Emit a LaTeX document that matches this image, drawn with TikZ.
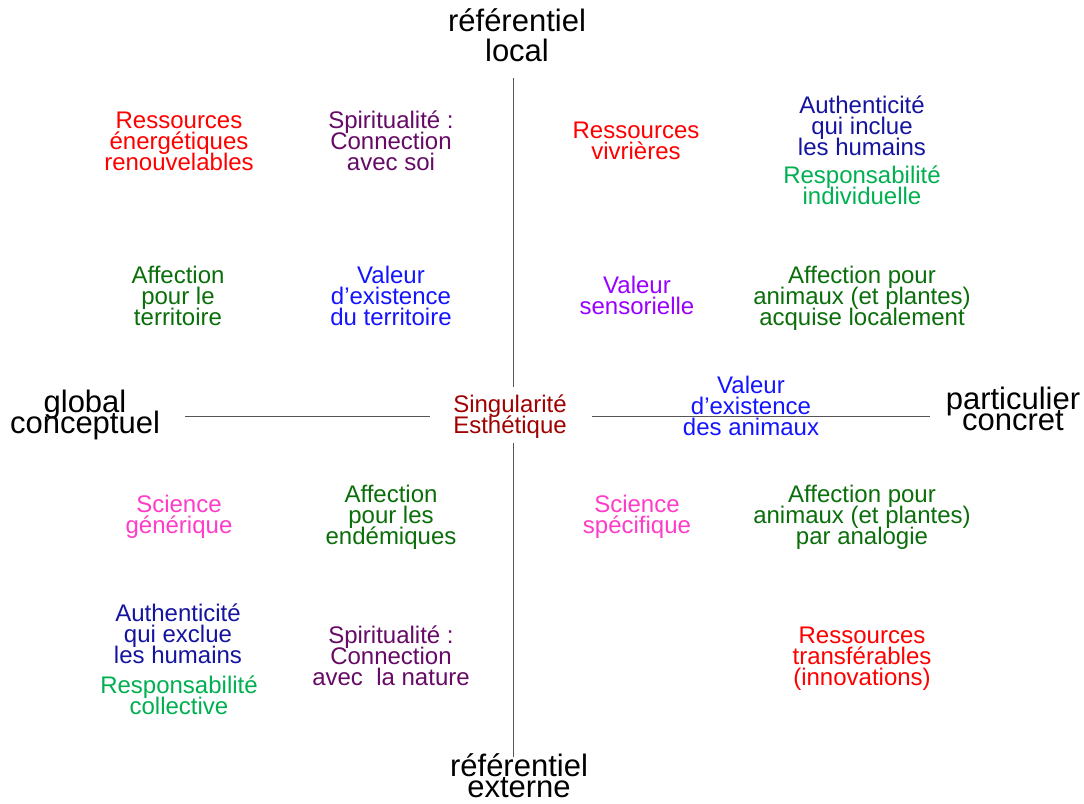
\documentclass[tikz,border=0pt]{standalone}
\usepackage{fontspec}
\setmainfont{Liberation Sans}
\definecolor{cRed}{RGB}{255,0,0}
\definecolor{cPurple}{RGB}{102,10,102}
\definecolor{cNavy}{RGB}{20,20,160}
\definecolor{cLgreen}{RGB}{0,176,80}
\definecolor{cDgreen}{RGB}{10,110,10}
\definecolor{cBlue}{RGB}{20,20,255}
\definecolor{cViolet}{RGB}{153,0,255}
\definecolor{cDred}{RGB}{160,0,0}
\definecolor{cPink}{RGB}{255,60,200}
\definecolor{cAxis}{RGB}{85,85,85}
\newcommand\mytight{\lineskiplimit-100pt\relax}
\tikzset{
  lbl/.style={align=center, anchor=base, inner sep=0pt, font=\fontsize{24}{21}\selectfont\mytight},
  axlbl/.style={align=center, anchor=base, inner sep=0pt, text=black, font=\fontsize{31}{21}\selectfont\mytight},
  axline/.style={draw=cAxis, line width=1pt}
}
\begin{document}
\begin{tikzpicture}[x=1pt,y=-1pt]
\useasboundingbox (0,0) rectangle (1084,803);
% axis labels (anchored at the baseline of the last line)
\node[axlbl, font=\fontsize{31}{30}\selectfont\mytight] (top) at (517,61) {référentiel\\local};
\node[axlbl] (bot) at (519,797) {référentiel\\externe};
\node[axlbl] (left) at (85,433) {global\\conceptuel};
\node[axlbl] (right) at (1013,430) {particulier\\concret};
% axis lines
\coordinate (vt1) at (513,78);
\coordinate (vt2) at (513,387);
\coordinate (vb1) at (513,443);
\coordinate (vb2) at (513,757);
\coordinate (hl1) at (185,416);
\coordinate (hl2) at (430,416);
\coordinate (hr1) at (592,416);
\coordinate (hr2) at (930,416);
\draw[axline] (vt1) -- (vt2);
\draw[axline] (vb1) -- (vb2);
\draw[axline] (hl1) -- (hl2);
\draw[axline] (hr1) -- (hr2);
% upper left quadrant
\node[lbl, text=cRed] (ren) at (179,170) {Ressources\\énergétiques\\renouvelables};
\node[lbl, text=cPurple] (soi) at (391,170) {Spiritualité :\\Connection\\avec soi};
\node[lbl, text=cDgreen] (terr) at (178,325) {Affection\\pour le\\territoire};
\node[lbl, text=cBlue] (vterr) at (391,325) {Valeur\\d’existence\\du territoire};
% upper right quadrant
\node[lbl, text=cRed] (viv) at (636,159) {Ressources\\vivrières};
\node[lbl, text=cNavy] (incl) at (862,155) {Authenticité\\qui inclue\\les humains};
\node[lbl, text=cLgreen] (indiv) at (862,204) {Responsabilité\\individuelle};
\node[lbl, text=cViolet] (sens) at (637,314) {Valeur\\sensorielle};
\node[lbl, text=cDgreen] (loc) at (862,325) {Affection pour\\animaux (et plantes)\\acquise localement};
% centre
\node[lbl, text=cDred] (sing) at (510,433) {Singularité\\Esthétique};
\node[lbl, text=cBlue] (vanim) at (751,435) {Valeur\\d’existence\\des animaux};
% lower left quadrant
\node[lbl, text=cPink] (gen) at (179,533) {Science\\générique};
\node[lbl, text=cDgreen] (end) at (391,544) {Affection\\pour les\\endémiques};
\node[lbl, text=cNavy] (excl) at (178,663) {Authenticité\\qui exclue\\les humains};
\node[lbl, text=cLgreen] (coll) at (179,714) {Responsabilité\\collective};
\node[lbl, text=cPurple] (nat) at (391,685) {Spiritualité :\\Connection\\avec~ la nature};
% lower right quadrant
\node[lbl, text=cPink] (spec) at (637,533) {Science\\spécifique};
\node[lbl, text=cDgreen] (anal) at (862,544) {Affection pour\\animaux (et plantes)\\par analogie};
\node[lbl, text=cRed] (trans) at (862,685) {Ressources\\transférables\\(innovations)};
\end{tikzpicture}
\end{document}
